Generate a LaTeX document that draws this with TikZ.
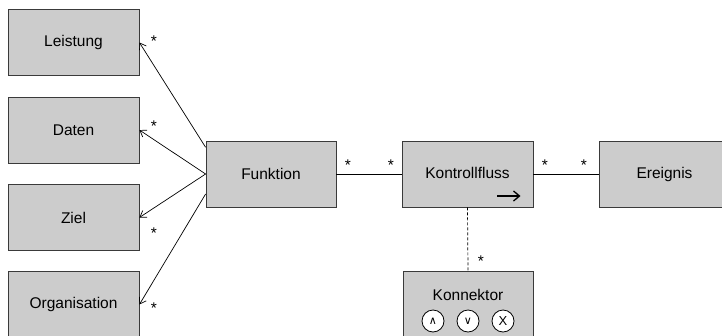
\documentclass[tikz,border=0pt]{standalone}
\usepackage{fontspec}
\setmainfont{Liberation Sans}
\newfontfamily\symfont{DejaVu Sans}
\usetikzlibrary{calc,arrows.meta}
\definecolor{boxfill}{HTML}{CCCCCC}
\definecolor{boxline}{HTML}{3A3A3A}
\begin{document}
\begin{tikzpicture}[x=1pt,y=-1pt,
  every node/.style={font=\fontsize{15.5}{18}\selectfont},
  entity/.style={draw=boxline, fill=boxfill, line width=0.8pt, minimum width=131pt, minimum height=66pt, inner sep=0pt},
  mult/.style={inner sep=0pt, font=\fontsize{15.5}{18}\selectfont},
  link/.style={draw=black, line width=0.7pt},
  assoc/.style={link, -{Straight Barb[length=6pt,width=8pt]}},
  opcircle/.style={draw=black, fill=white, circle, line width=0.8pt, minimum size=22pt, inner sep=0pt, font=\fontsize{13}{15}\selectfont},
  opsym/.style={font=\symfont\fontsize{11}{13}\selectfont}
]
\useasboundingbox (0,0) rectangle (722,335);
\begin{scope}
\clip (0,0) rectangle (722,335);
% boxes
\node[entity] (ls) at (73.5,42.5) {Leistung};
\node[entity] (dt) at (73.5,130) {Daten};
\node[entity] (zl) at (73.5,217.5) {Ziel};
\node[entity] (og) at (73.5,304.5) {Organisation};
\node[entity, minimum width=130pt] (fk) at (271,174) {Funktion};
\node[entity] (kf) at (467.5,174) {};
\node[mult, anchor=center] (kft) at (467.5,173) {Kontrollfluss};
\node[entity] (er) at (664.5,174) {Ereignis};
\node[entity, minimum width=130pt] (kn) at (468,304.5) {};
\node[mult] (knt) at (468,295) {Konnektor};
\node[opcircle, opsym] (and) at (433,321) {∧};
\node[opcircle, opsym] (or) at (468,321) {∨};
\node[opcircle] (xor) at (503,321) {X};
\end{scope}
% arrow inside Kontrollfluss
\coordinate (fa) at ($(kf.center)+(29.5,22)$);
\coordinate (fb) at ($(kf.center)+(53,22)$);
\draw[line width=1.3pt, -{Straight Barb[length=6pt,width=10pt,line width=1.3pt]}] (fa) -- (fb);
% connectors from Funktion
\coordinate (f1) at ($(fk.north west)!0.1!(fk.south west)$);
\coordinate (f4) at ($(fk.north west)!0.8!(fk.south west)$);
\draw[assoc] (f1) -- (ls.east);
\draw[assoc] (fk.west) -- (dt.east);
\draw[assoc] (fk.west) -- (zl.east);
\draw[assoc] (f4) -- (og.east);
\draw[link] (fk.east) -- (kf.west);
\draw[link] (kf.east) -- (er.west);
\draw[link, dashed, dash pattern=on 3pt off 2pt] (kf.south) -- (kn.north);
% multiplicities
\node[mult] (m1) at (154,41) {*};
\node[mult] (m2) at (154,126) {*};
\node[mult] (m3) at (154,233) {*};
\node[mult] (m4) at (154,308) {*};
\node[mult] (m5) at (348,165) {*};
\node[mult] (m6) at (391,165) {*};
\node[mult] (m7) at (545,165) {*};
\node[mult] (m8) at (584,165) {*};
\node[mult] (m9) at (481,261) {*};
\end{tikzpicture}
\end{document}
